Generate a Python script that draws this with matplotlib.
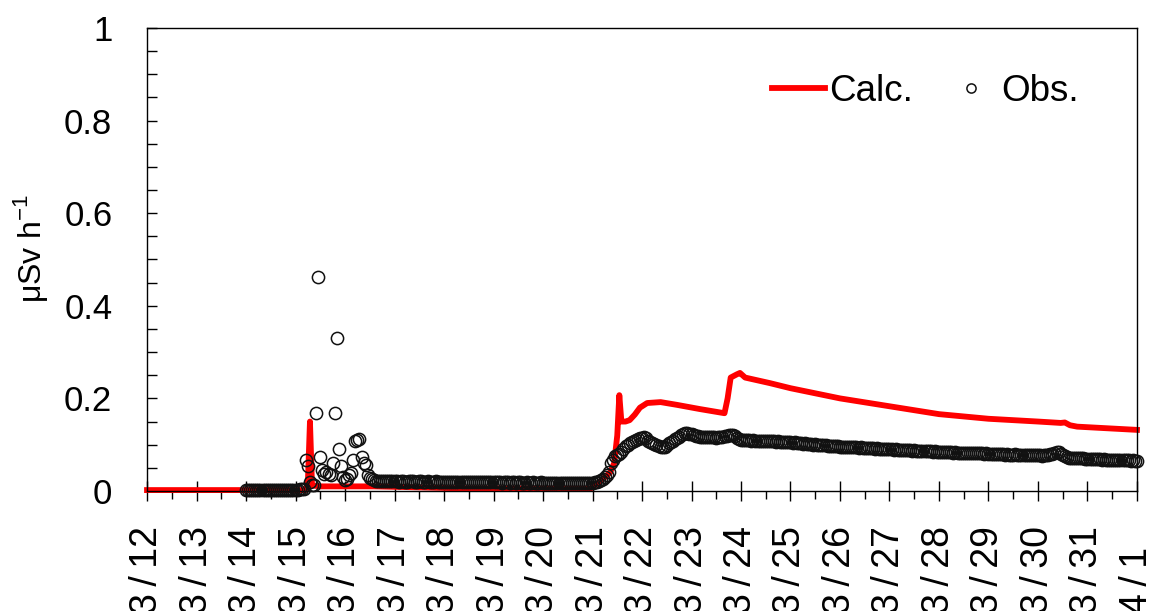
import numpy as np
import pandas as pd
import matplotlib
matplotlib.use("Agg")
import matplotlib.pyplot as plt
from matplotlib.ticker import FixedLocator, MultipleLocator, FixedFormatter

plt.rcParams["font.family"] = ["Liberation Sans", "DejaVu Sans"]
plt.rcParams["mathtext.fontset"] = "custom"
plt.rcParams["mathtext.rm"] = "Liberation Sans"

# Calculated dose rate (uSv/h): knots given as hours after 3/12 00:00
calc_hours = [0, 77, 78, 79, 80, 84, 110, 150, 215, 217, 219.5, 222, 224.5,
              226.5, 228, 229, 230, 232, 234, 236.5, 239, 242.5, 249, 257,
              268, 280, 281.5, 283, 286, 287.5, 290, 295, 302, 312, 336,
              360, 384, 408, 432, 443, 445, 447.5, 451, 480]
calc_values = [0.002, 0.002, 0.020, 0.150, 0.012, 0.010, 0.010, 0.006, 0.005,
               0.012, 0.020, 0.030, 0.040, 0.060, 0.120, 0.207, 0.150, 0.150,
               0.153, 0.165, 0.180, 0.190, 0.192, 0.186, 0.177, 0.168, 0.200,
               0.245, 0.252, 0.255, 0.245, 0.240, 0.233, 0.222, 0.200, 0.183,
               0.166, 0.156, 0.150, 0.147, 0.148, 0.142, 0.139, 0.132]

# Hourly observed dose rate from 3/14 00:00, in nSv/h (one row per day)
obs_nsv = [
    [3, 3, 3, 3, 3, 3, 3, 3, 3, 3, 3, 3, 3, 3, 3, 3, 3, 3, 3, 3, 3, 3, 3, 3],
    [3, 3, 4, 4, 5, 67, 54, 20, 13, 12, 168, 462, 73, 45, 37, 40, 37, 35, 60, 168, 330, 90, 54, 30],
    [24, 26, 35, 39, 67, 108, 110, 112, 73, 60, 56, 35, 28, 25, 23, 22, 22, 21, 21, 22, 21, 21, 21, 21],
    [21, 21, 20, 21, 21, 20, 20, 21, 21, 21, 20, 20, 21, 21, 20, 20, 21, 20, 20, 20, 21, 20, 20, 20],
    [20, 20, 20, 19, 20, 20, 20, 19, 20, 20, 19, 19, 20, 20, 20, 19, 19, 20, 19, 19, 20, 19, 19, 19],
    [19, 19, 19, 19, 18, 19, 19, 19, 18, 19, 19, 18, 19, 19, 18, 18, 19, 18, 18, 19, 18, 18, 18, 19],
    [18, 18, 18, 17, 18, 18, 18, 17, 18, 18, 17, 18, 18, 17, 17, 18, 17, 18, 18, 17, 17, 18, 18, 18],
    [18, 19, 20, 22, 24, 26, 30, 35, 40, 60, 67, 75, 78, 80, 84, 90, 97, 100, 103, 106, 108, 110, 112, 114],
    [115, 117, 114, 108, 105, 103, 101, 100, 98, 96, 95, 96, 100, 104, 106, 108, 112, 114, 117, 121, 124, 125, 125, 124],
    [123, 121, 119, 118, 117, 116, 117, 116, 116, 117, 116, 116, 115, 116, 116, 117, 118, 119, 120, 121, 120, 118, 115, 112],
    [111, 110, 110, 111, 110, 109, 110, 109, 109, 108, 109, 108, 108, 107, 108, 107, 107, 106, 107, 106, 106, 105, 106, 105],
    [105, 104, 105, 104, 103, 103, 102, 103, 102, 101, 101, 100, 101, 100, 99, 100, 99, 99, 98, 98, 97, 98, 97, 97],
    [96, 96, 95, 96, 95, 94, 95, 94, 94, 93, 94, 93, 93, 92, 93, 92, 92, 91, 92, 91, 91, 90, 91, 90],
    [90, 90, 89, 90, 89, 89, 88, 89, 88, 88, 88, 87, 88, 87, 87, 87, 86, 87, 86, 86, 86, 85, 86, 85],
    [85, 85, 84, 85, 84, 84, 84, 83, 84, 83, 83, 83, 82, 83, 82, 82, 82, 81, 82, 81, 81, 81, 80, 81],
    [80, 80, 80, 79, 80, 79, 79, 79, 78, 79, 78, 78, 78, 79, 78, 78, 77, 78, 77, 77, 78, 77, 77, 77],
    [77, 77, 76, 77, 77, 78, 79, 80, 83, 85, 84, 80, 77, 75, 73, 72, 72, 72, 71, 72, 71, 71, 71, 70],
    [70, 70, 69, 70, 69, 69, 69, 68, 69, 68, 68, 68, 67, 68, 67, 67, 66, 67, 66, 66, 66, 65, 66, 65],
    [65],
]

day_labels = ["3/12", "3/13", "3/14", "3/15", "3/16", "3/17", "3/18", "3/19",
              "3/20", "3/21", "3/22", "3/23", "3/24", "3/25", "3/26", "3/27",
              "3/28", "3/29", "3/30", "3/31", "4/1"]
y_labels = ["0", "0.2", "0.4", "0.6", "0.8", "1"]

start = pd.Timestamp("2011-03-12")
calc_time = start + pd.to_timedelta(calc_hours, unit="h")
obs_values = np.concatenate([np.array(r, dtype=float) for r in obs_nsv]) / 1000.0
obs_time = pd.date_range("2011-03-14", periods=len(obs_values), freq="h")
day_ticks = pd.date_range(start, periods=len(day_labels), freq="D")

fig = plt.figure(figsize=(11.55, 6.11), dpi=100)
ax = fig.add_axes([0.1273, 0.1964, 0.8571, 0.7578])

ax.plot(calc_time, calc_values, color="#ff0000", lw=4.2,
        solid_joinstyle="round", label="Calc.", clip_on=False, zorder=2)
ax.plot(obs_time, obs_values, ls="none", marker="o", ms=8.8, mfc="none",
        mec="#111111", mew=1.1, label="Obs.", clip_on=False, zorder=3)

ax.set_xlim(day_ticks[0], day_ticks[-1])
ax.set_ylim(0, 1)

# date labels: slash set off by thin spaces, as in the original axis lettering
spaced_labels = [s.replace("/", "\u2009/\u2009") for s in day_labels]
ax.xaxis.set_major_locator(FixedLocator(matplotlib.dates.date2num(day_ticks)))
ax.xaxis.set_major_formatter(FixedFormatter(spaced_labels))
half_days = pd.date_range(start + pd.Timedelta(hours=12), periods=len(day_labels) - 1, freq="D")
ax.xaxis.set_minor_locator(FixedLocator(matplotlib.dates.date2num(half_days)))
ax.tick_params(axis="x", which="major", direction="inout", length=15, width=1.0,
               labelsize=27, pad=81, labelrotation=90)
ax.tick_params(axis="x", which="minor", direction="out", length=6, width=1.0)
# date labels start from a common baseline below the axis and read upwards
for lab in ax.get_xticklabels():
    lab.set_verticalalignment("bottom")

ax.yaxis.set_major_locator(FixedLocator([0, 0.2, 0.4, 0.6, 0.8, 1.0]))
ax.yaxis.set_major_formatter(FixedFormatter(y_labels))
ax.yaxis.set_minor_locator(MultipleLocator(0.05))
ax.tick_params(axis="y", which="both", direction="in", length=7, width=1.0)
ax.tick_params(axis="y", which="major", labelsize=25, pad=25)

for s in ax.spines.values():
    s.set_linewidth(1.0)

ax.set_ylabel("μSv h$^{\\mathregular{-1}}$", fontsize=23)
ax.yaxis.set_label_coords(-0.098, 0.525)

ax.legend(loc="center left", bbox_to_anchor=(0.631, 0.862), ncol=2,
          frameon=False, fontsize=26.5, handlelength=1.45, handletextpad=0.1,
          columnspacing=0.85, borderpad=0, borderaxespad=0, markerscale=0.75)

fig.savefig("out.png", dpi=100)
